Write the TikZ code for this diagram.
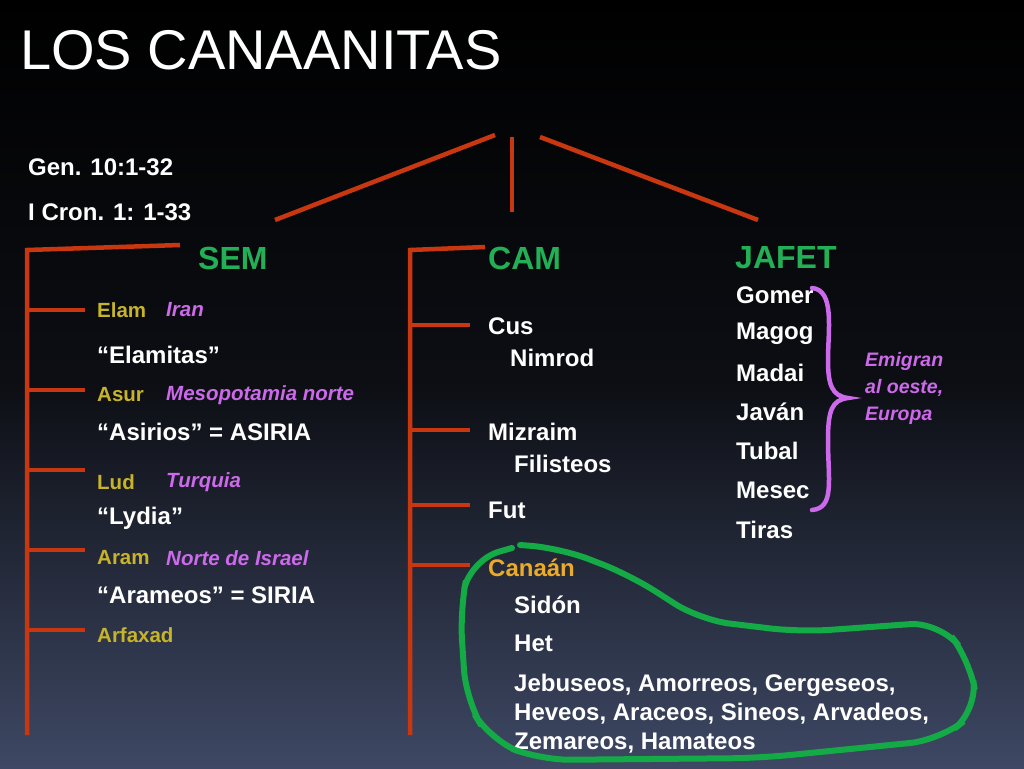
\documentclass[tikz,border=0pt]{standalone}
\usepackage{fontspec}
\setmainfont{Liberation Sans}
\definecolor{linered}{RGB}{200,55,15}
\definecolor{titlegreen}{RGB}{35,175,85}
\definecolor{nameyellow}{RGB}{200,180,40}
\definecolor{placepurple}{RGB}{205,105,235}
\definecolor{canaan}{RGB}{235,170,40}
\definecolor{loopgreen}{RGB}{20,170,70}
\definecolor{bgbottom}{RGB}{62,72,100}
\tikzset{
  line/.style = {draw=linered, line width=4.5pt},
  txt/.style = {anchor=west, inner sep=0pt, text=white, font=\fontsize{24}{26}\selectfont\bfseries},
  head/.style = {anchor=west, inner sep=0pt, text=titlegreen, font=\fontsize{32}{34}\selectfont\bfseries},
  son/.style = {anchor=west, inner sep=0pt, text=nameyellow, font=\fontsize{20.5}{22}\selectfont\bfseries},
  place/.style = {anchor=west, inner sep=0pt, text=placepurple, font=\fontsize{20.5}{22}\selectfont\bfseries\itshape}
}
\begin{document}
\begin{tikzpicture}[x=1pt,y=-1pt]
\shade[top color=black, bottom color=bgbottom, middle color=black!80!bgbottom] (0,0) rectangle (1024,768);
\useasboundingbox (0,0) rectangle (1024,768);

\node[anchor=west, inner sep=0pt, text=white, font=\fontsize{56}{58}\selectfont] (title) at (20,50) {LOS CANAANITAS};
\node[txt] (gen) at (28,167) {Gen. 10:1-32};
\node[txt] (cron) at (28,212) {I Cron. 1: 1-33};

% tree top
\coordinate (tl1) at (275,220); \coordinate (tl2) at (495,135);
\coordinate (tm1) at (512,137); \coordinate (tm2) at (512,212);
\coordinate (tr1) at (540,137); \coordinate (tr2) at (758,220);
\draw[line] (tl1) -- (tl2);
\draw[line] (tm1) -- (tm2);
\draw[line] (tr1) -- (tr2);

\node[head] (sem) at (198,258) {SEM};
\node[head] (cam) at (488,258) {CAM};
\node[head] (jafet) at (735,258) {JAFET};

% SEM bracket
\coordinate (s0) at (27,250); \coordinate (s1) at (180,245); \coordinate (s9) at (27,735);
\draw[line] (s1) -- (s0) -- (s9);
\foreach \y in {310,390,470,550,630} {
  \coordinate (sa) at (27,\y); \coordinate (sb) at (85,\y);
  \draw[line] (sa) -- (sb);
}
\node[son] (elam) at (97,310) {Elam};
\node[place] (iran) at (166,310) {Iran};
\node[txt] (elamitas) at (97,355) {“Elamitas”};
\node[son] (asur) at (97,395) {Asur};
\node[place] (meso) at (166,395) {Mesopotamia norte};
\node[txt] (asirios) at (97,432) {“Asirios” = ASIRIA};
\node[son] (lud) at (97,482) {Lud};
\node[place] (turq) at (166,482) {Turquia};
\node[txt] (lydia) at (97,518) {“Lydia”};
\node[son] (aram) at (97,558) {Aram};
\node[place] (norte) at (166,558) {Norte de Israel};
\node[txt] (arameos) at (97,595) {“Arameos” = SIRIA};
\node[son] (arfa) at (97,635) {Arfaxad};

% CAM bracket
\coordinate (c0) at (410,250); \coordinate (c1) at (485,247); \coordinate (c9) at (410,735);
\draw[line] (c1) -- (c0) -- (c9);
\foreach \y in {325,430,505,565} {
  \coordinate (ca) at (410,\y); \coordinate (cb) at (470,\y);
  \draw[line] (ca) -- (cb);
}
\node[txt] (cus) at (488,326) {Cus};
\node[txt] (nimrod) at (510,358) {Nimrod};
\node[txt] (mizraim) at (488,432) {Mizraim};
\node[txt] (filisteos) at (514,464) {Filisteos};
\node[txt] (fut) at (488,510) {Fut};
\node[txt, text=canaan] (canaan) at (488,568) {Canaán};
\node[txt] (sidon) at (514,605) {Sidón};
\node[txt] (het) at (514,643) {Het};
\node[txt, align=left, font=\fontsize{24}{29}\selectfont\bfseries] (pueblos) at (514,714) {Jebuseos, Amorreos, Gergeseos,\\Heveos, Araceos, Sineos, Arvadeos,\\Zemareos, Hamateos};

% JAFET
\foreach \n/\t/\y in {gomer/Gomer/295,magog/Magog/334,madai/Madai/373,javan/Javán/412,tubal/Tubal/451,mesec/Mesec/490,tiras/Tiras/530}
  \node[txt] (\n) at (736,\y) {\t};

\coordinate (b0) at (812,288); \coordinate (bm) at (848,398); \coordinate (b1) at (812,510);
\draw[placepurple, line width=4.5pt, line cap=round]
  (b0) .. controls (835,290) and (828,330) .. (828,360)
  .. controls (828,385) and (832,396) .. (bm)
  .. controls (832,400) and (828,410) .. (828,440)
  .. controls (828,480) and (835,508) .. (b1);
\node[place, align=left, font=\fontsize{19.5}{27}\selectfont\bfseries\itshape] (emigran) at (865,388) {Emigran\\al oeste,\\Europa};

% green loop
\draw[loopgreen, line width=6pt, line cap=round, rounded corners=30pt]
  (512,548) -- (470,560) -- (460,610) -- (466,700) -- (490,740) -- (540,760)
  -- (760,758) -- (940,740) -- (978,710) -- (970,660) -- (940,622)
  -- (800,632) -- (700,620) -- (630,575) -- (560,548) -- (520,545);
\end{tikzpicture}
\end{document}
